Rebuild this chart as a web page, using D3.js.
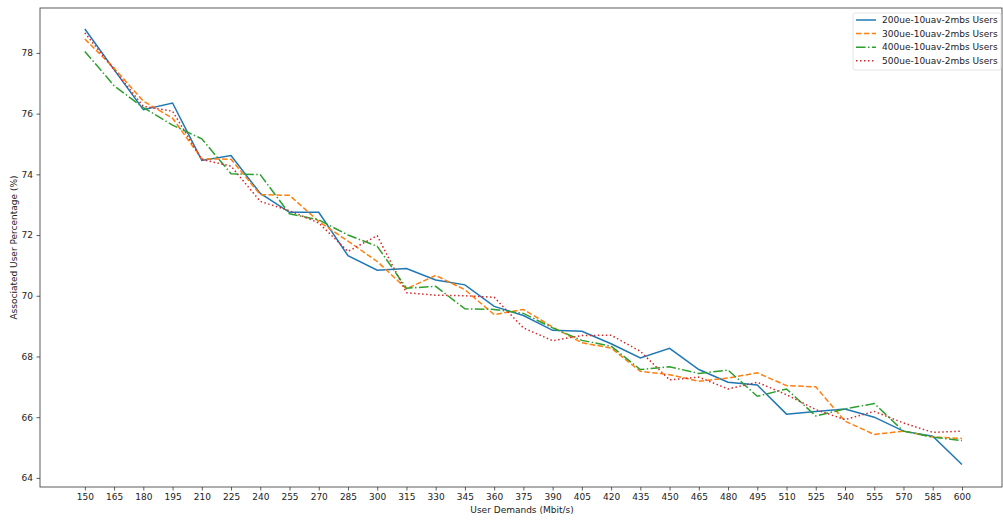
<!DOCTYPE html>
<html lang="en">
<head>
    <meta charset="UTF-8">
    <title>Associated users</title>
    <style>
        body { margin: 0; background: #fff; }
        svg text { font-family: "DejaVu Sans", sans-serif; fill: #222; }
    </style>
</head>
<body>
    <script src="https://cdn.jsdelivr.net/npm/d3@7"></script>
    <script>
        // user demand (Mbit/s)
        var demands = [150, 165, 180, 195, 210, 225, 240, 255, 270, 285, 300, 315, 330, 345, 360, 375,
            390, 405, 420, 435, 450, 465, 480, 495, 510, 525, 540, 555, 570, 585, 600];

        var names = ["200ue-10uav-2mbs Users", "300ue-10uav-2mbs Users", "400ue-10uav-2mbs Users", "500ue-10uav-2mbs Users"];

        var ue200 = [78.79, 77.45, 76.13, 76.35, 74.46, 74.62, 73.37, 72.75, 72.75, 71.32, 70.84, 70.90, 70.52, 70.36,
            69.65, 69.35, 68.86, 68.83, 68.42, 67.95, 68.27, 67.57, 67.15, 67.06, 66.10, 66.19, 66.27, 66.00, 65.54, 65.37, 64.44];
        var ue300 = [78.46, 77.50, 76.41, 75.85, 74.51, 74.50, 73.33, 73.31, 72.45, 71.80, 71.13, 70.23, 70.67, 70.20,
            69.38, 69.55, 68.97, 68.45, 68.28, 67.51, 67.40, 67.18, 67.29, 67.46, 67.04, 67.00, 65.87, 65.43, 65.54, 65.35, 65.30];
        var ue400 = [78.05, 76.92, 76.20, 75.62, 75.17, 74.02, 73.99, 72.70, 72.50, 72.00, 71.63, 70.25, 70.31, 69.57,
            69.55, 69.42, 68.94, 68.53, 68.34, 67.57, 67.66, 67.44, 67.55, 66.69, 66.93, 66.04, 66.27, 66.45, 65.54, 65.34, 65.23];
        var ue500 = [78.66, 77.45, 76.24, 76.08, 74.49, 74.27, 73.11, 72.80, 72.40, 71.46, 71.98, 70.10, 70.02, 70.00,
            69.95, 68.94, 68.52, 68.69, 68.70, 68.17, 67.23, 67.32, 66.93, 67.15, 66.74, 66.25, 65.92, 66.19, 65.81, 65.50, 65.54];

        var yTicks = [64, 66, 68, 70, 72, 74, 76, 78];

        var series = [ue200, ue300, ue400, ue500];
        var colors = ["#1f77b4", "#ff7f0e", "#2ca02c", "#d62728"];
        var dashes = [null, "5.5,2.4", "9.6,2.4,1.5,2.4", "1.5,2.5"];

        var W = 1003, H = 521;
        var box = { left: 40, top: 8, right: 1002, bottom: 487 };
        var fs = 9;

        var svg = d3.select("body").append("svg").attr("width", W).attr("height", H);

        var x = d3.scaleLinear().domain([127.5, 622.5]).range([box.left + 1, box.left + 1 + 964.8]);
        var y = d3.scaleLinear().domain([63.70, 79.48]).range([box.bottom, box.top]);

        // clip so lines stay in the frame
        svg.append("clipPath").attr("id", "clip").append("rect")
            .attr("x", box.left).attr("y", box.top)
            .attr("width", box.right - box.left).attr("height", box.bottom - box.top);

        var xAxis = svg.append("g").attr("transform", "translate(0," + box.bottom + ")")
            .call(d3.axisBottom(x).tickValues(demands).tickSize(3.5).tickPadding(3.5));
        var yAxis = svg.append("g").attr("transform", "translate(" + box.left + ",0)")
            .call(d3.axisLeft(y).tickValues(yTicks).tickSize(3.5).tickPadding(3.5).tickFormat(d3.format("d")));
        [xAxis, yAxis].forEach(function (g) {
            g.select(".domain").remove();
            g.selectAll("line").attr("stroke", "#333").attr("stroke-width", 0.8);
            g.selectAll("text").attr("font-size", fs).attr("fill", "#222").style("font-family", "DejaVu Sans, sans-serif");
        });

        // lines
        var line = d3.line().x(function (d, i) { return x(demands[i]); }).y(function (d) { return y(d); });
        var plot = svg.append("g").attr("clip-path", "url(#clip)");
        series.forEach(function (s, k) {
            plot.append("path").datum(s)
                .attr("d", line)
                .attr("fill", "none")
                .attr("stroke", colors[k])
                .attr("stroke-width", 1.5)
                .attr("stroke-dasharray", dashes[k]);
        });

        // frame
        svg.append("rect").attr("x", box.left).attr("y", box.top)
            .attr("width", box.right - box.left).attr("height", box.bottom - box.top)
            .attr("fill", "none").attr("stroke", "#333").attr("stroke-width", 0.8);

        // axis labels
        svg.append("text").attr("x", 522).attr("y", 513)
            .attr("text-anchor", "middle").attr("font-size", fs).text("User Demands (Mbit/s)");
        svg.append("text").attr("transform", "translate(17," + (box.top + box.bottom) / 2 + ") rotate(-90)")
            .attr("text-anchor", "middle").attr("font-size", fs).text("Associated User Percentage (%)");

        // legend
        var lg = svg.append("g").attr("transform", "translate(853,13)");
        lg.append("rect").attr("width", 148).attr("height", 57).attr("rx", 2)
            .attr("fill", "#fff").attr("fill-opacity", 0.8).attr("stroke", "#ddd").attr("stroke-width", 0.8);
        names.forEach(function (n, k) {
            var yy = 7 + k * 13.6;
            lg.append("line").attr("x1", 3).attr("x2", 23).attr("y1", yy).attr("y2", yy)
                .attr("stroke", colors[k]).attr("stroke-width", 1.5).attr("stroke-dasharray", dashes[k]);
            lg.append("text").attr("x", 29).attr("y", yy + 3.2).attr("font-size", fs).text(n);
        });
    </script>
</body>
</html>
